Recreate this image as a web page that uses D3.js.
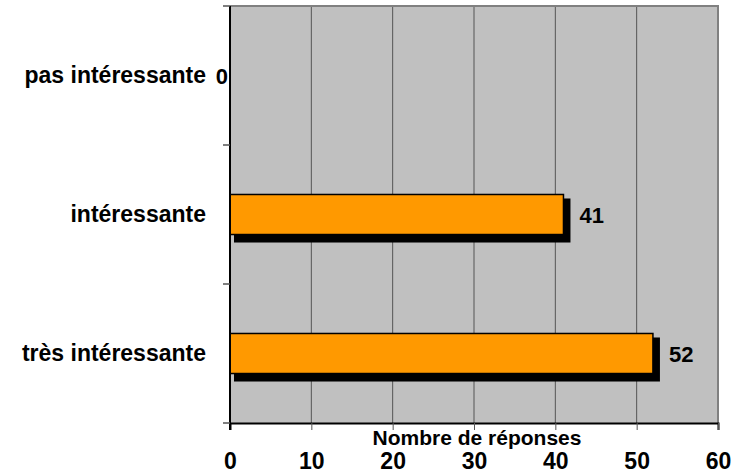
<!DOCTYPE html>
<html><head><meta charset="utf-8">
<script src="https://cdn.jsdelivr.net/npm/d3@7"></script>
<style>body{margin:0;background:#fff}svg{display:block}text{font-family:"Liberation Sans",Arial,sans-serif;font-weight:bold;fill:#000}</style>
</head><body><div id="chart"></div>
<script>
const categories = ["pas intéressante", "intéressante", "très intéressante"];
const values = [0, 41, 52];
const xTicks = [0, 10, 20, 30, 40, 50, 60];
const xTitle = "Nombre de réponses";

const W = 736, H = 475;
const L = 230, R = 718, T = 6, B = 423;
const svg = d3.select("#chart").append("svg").attr("width", W).attr("height", H);

const x = d3.scaleLinear().domain([0, 60]).range([L, R]);
const y = d3.scaleBand().domain(categories).range([T, B]).paddingInner(0.712).paddingOuter(0.356);

// plot background
svg.append("rect").attr("x", L).attr("y", T).attr("width", R - L).attr("height", B - T).attr("fill", "#c0c0c0");

// gridlines
svg.append("g").selectAll("line").data(xTicks.filter(d => d > 0 && d < 60)).join("line")
  .attr("x1", d => x(d)).attr("x2", d => x(d)).attr("y1", T).attr("y2", B)
  .attr("stroke", "#555").attr("stroke-width", 1);

// top & right border
svg.append("path").attr("d", `M${L},${T}H${R}V${B}`).attr("fill", "none").attr("stroke", "#808080").attr("stroke-width", 2);

// shadows
svg.append("g").selectAll("rect").data(values.map((v, i) => ({v, c: categories[i]})).filter(d => d.v > 0)).join("rect")
  .attr("x", x(0) + 4).attr("y", d => y(d.c) + 4)
  .attr("width", d => x(d.v) - x(0) + 3).attr("height", y.bandwidth() + 4)
  .attr("fill", "#000");
// bars
svg.append("g").selectAll("rect").data(values.map((v, i) => ({v, c: categories[i]})).filter(d => d.v > 0)).join("rect")
  .attr("x", x(0)).attr("y", d => y(d.c))
  .attr("width", d => x(d.v) - x(0)).attr("height", y.bandwidth())
  .attr("fill", "#ff9900").attr("stroke", "#000").attr("stroke-width", 1.5);

// x axis
const xAxis = svg.append("g").attr("transform", `translate(0,${B})`)
  .call(d3.axisBottom(x).tickValues(xTicks).tickSize(7).tickPadding(23).tickFormat(d3.format("d")));
xAxis.select(".domain").attr("stroke", "#000").attr("stroke-width", 2);
xAxis.selectAll(".tick line").attr("stroke", "#555");
xAxis.selectAll("text").attr("font-size", 23).attr("font-family", '"Liberation Sans",Arial,sans-serif').attr("font-weight", "bold").attr("fill", "#000");

// y axis line and ticks at band boundaries
svg.append("line").attr("x1", L).attr("x2", L).attr("y1", T).attr("y2", B + 7).attr("stroke", "#000").attr("stroke-width", 2);
const bounds = categories.map(c => y(c) - y.step() * y.paddingInner() / 2).concat([B]);
svg.append("g").selectAll("line").data(bounds).join("line")
  .attr("x1", L - 7).attr("x2", L).attr("y1", d => d).attr("y2", d => d)
  .attr("stroke", "#555").attr("stroke-width", 1.5);

// category labels
svg.append("g").selectAll("text").data(categories).join("text")
  .attr("x", 206).attr("y", d => y(d) + y.bandwidth() / 2 + 7)
  .attr("text-anchor", "end").attr("font-size", 23).text(d => d);

// value labels
svg.append("g").selectAll("text").data(values.map((v, i) => ({v, c: categories[i]}))).join("text")
  .attr("x", d => d.v > 0 ? x(d.v) + 16 : x(0) - 2)
  .attr("y", d => y(d.c) + y.bandwidth() / 2 + 8)
  .attr("text-anchor", d => d.v > 0 ? "start" : "end")
  .attr("font-size", 22).text(d => d.v);

// axis title
svg.append("text").attr("x", (L + R) / 2 + 3).attr("y", 445).attr("text-anchor", "middle").attr("font-size", 21).text(xTitle);
</script></body></html>
